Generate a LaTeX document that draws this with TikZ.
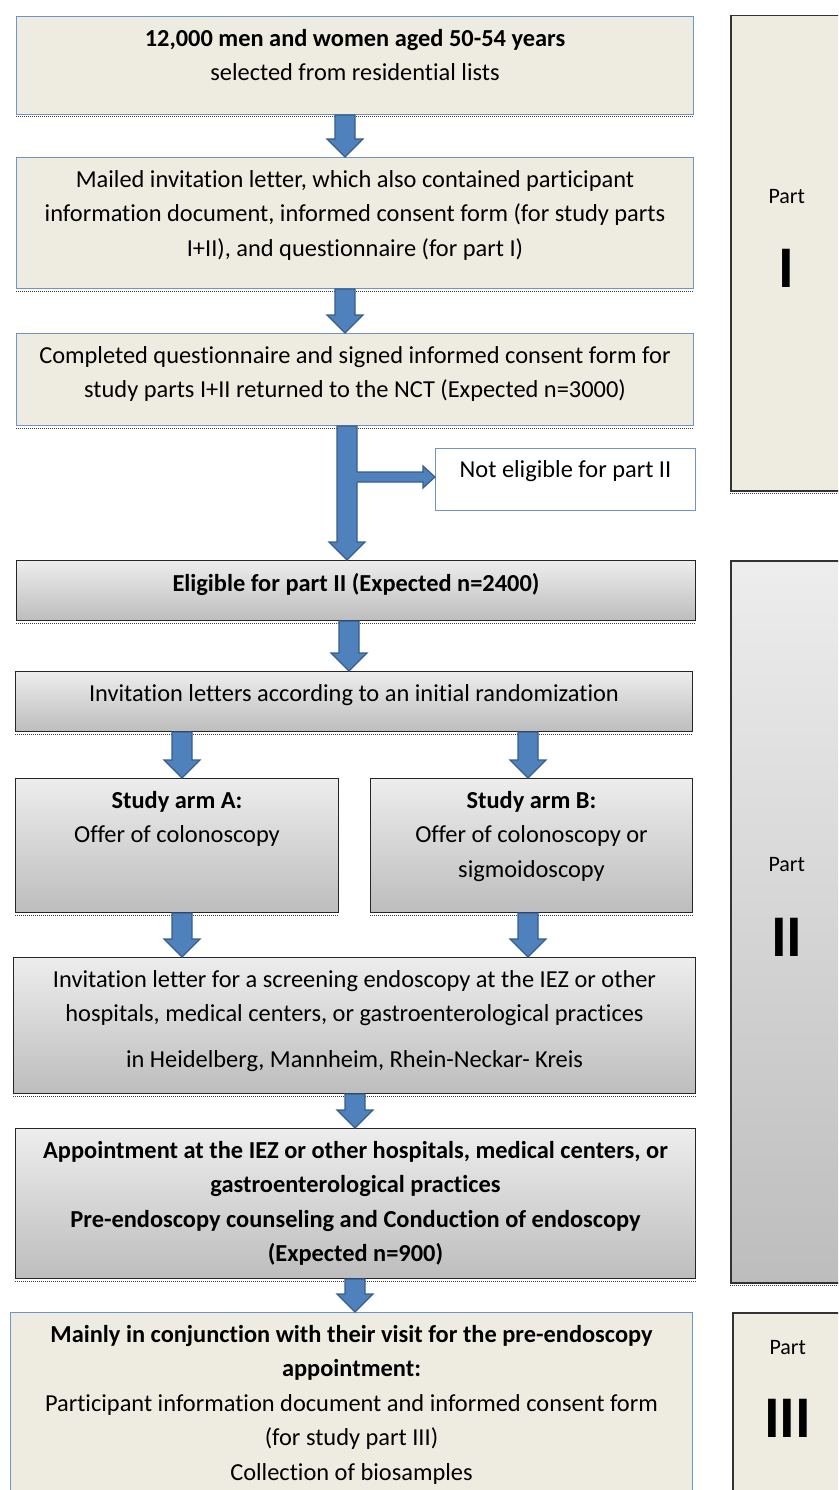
\documentclass[tikz,border=0pt]{standalone}
\usepackage{fontspec}
\setmainfont{Carlito}[Ligatures={TeX,NoCommon}]
\usetikzlibrary{calc}

\definecolor{bgtan}{HTML}{EEECE1}
\definecolor{boxline}{HTML}{6F94C8}
\definecolor{arrowfill}{HTML}{4F81BD}
\definecolor{arrowline}{HTML}{385D8A}
\definecolor{greytop}{HTML}{EDEDED}
\definecolor{greybot}{HTML}{BDBDBD}

% block arrow: from anchor, to anchor, x position
\newcommand\fatarrow[3]{%
  \draw[blockarrow] let \p1=(#1), \p2=(#2), \p3=(#3,0) in
    (\x3-10pt,\y1) -- (\x3+10pt,\y1) -- (\x3+10pt,\y2+18pt) -- (\x3+18pt,\y2+18pt)
    -- (\x3,\y2) -- (\x3-18pt,\y2+18pt) -- (\x3-10pt,\y2+18pt) -- cycle;}

\begin{document}
\begin{tikzpicture}[x=1pt, y=-1pt,
  every node/.style={font=\fontsize{24.4}{34.5}\selectfont},
  shadowline/.style={append after command={([yshift=-2pt]\tikzlastnode.south west) edge[densely dotted, line width=1pt, black!75] ([yshift=-2pt]\tikzlastnode.south east)}},
  tanbox/.style={draw=boxline, line width=1pt, fill=bgtan, anchor=north west, inner sep=0pt},
  greybox/.style={draw=black!85, line width=1pt, top color=greytop, bottom color=greybot, anchor=north west, inner sep=0pt},
  partbox/.style={draw=black!80, line width=1.5pt, anchor=north west, inner sep=0pt, minimum width=112pt},
  txt/.style={align=center, anchor=north, inner sep=0pt, yshift=-13pt},
  parttxt/.style={anchor=north, inner sep=0pt, font=\fontsize{22}{26}\selectfont},
  numtxt/.style={anchor=north, inner sep=0pt, font=\fontsize{59}{60}\selectfont\bfseries},
  blockarrow/.style={fill=arrowfill, draw=arrowline, line width=1.2pt, line join=miter}
]
\useasboundingbox (0,0) rectangle (838,1490);
\clip (0,0) rectangle (838,1490);

% Part boxes
\node[partbox, shadowline, fill=bgtan, minimum height=475pt,
  label={[parttxt, yshift=-174pt]north:Part},
  label={[numtxt, yshift=-234pt]north:I}] (part1) at (730,15) {};
\node[partbox, shadowline, top color=greytop, bottom color=greybot, minimum height=722pt,
  label={[parttxt, yshift=-297pt]north:Part},
  label={[numtxt, yshift=-358pt]north:II}] (part2) at (730,560) {};
\node[partbox, fill=bgtan, minimum width=110pt, minimum height=200pt,
  label={[parttxt, yshift=-28pt]north:Part},
  label={[numtxt, yshift=-87pt]north:III}] (part3) at (732,1312) {};

% Part I
\node[tanbox, shadowline, minimum width=677pt, minimum height=98pt,
  label={[txt]north:{\textbf{12,000 men and women aged 50-54 years}\\selected from residential lists}}] (sample) at (16,16) {};
\node[tanbox, shadowline, minimum width=677pt, minimum height=131pt,
  label={[txt]north:{Mailed invitation letter, which also contained participant\\information document, informed consent form (for study parts\\I+II), and questionnaire (for part I)}}] (mailed) at (16,157) {};
\node[tanbox, shadowline, minimum width=677pt, minimum height=92pt,
  label={[txt]north:{Completed questionnaire and signed informed consent form for\\study parts I+II returned to the NCT (Expected n=3000)}}] (returned) at (16,333) {};
\node[tanbox, fill=white, minimum width=260pt, minimum height=62pt,
  label={[txt, yshift=1pt]north:{Not eligible for part II}}] (noteligible) at (435,448) {};

% Part II
\node[greybox, shadowline, minimum width=679pt, minimum height=60pt,
  label={[txt]north:{\textbf{Eligible for part II (Expected n=2400)}}}] (eligible) at (16,560) {};
\node[greybox, shadowline, minimum width=677pt, minimum height=60pt,
  label={[txt]north:{Invitation letters according to an initial randomization}}] (random) at (15,671) {};
\node[greybox, shadowline, minimum width=323pt, minimum height=134pt,
  label={[txt]north:{\textbf{Study arm A:}\\Offer of colonoscopy}}] (armA) at (15,778) {};
\node[greybox, shadowline, minimum width=322pt, minimum height=134pt,
  label={[txt]north:{\textbf{Study arm B:}\\Offer of colonoscopy or\\sigmoidoscopy}}] (armB) at (370,778) {};
\node[greybox, shadowline, minimum width=682pt, minimum height=136pt,
  label={[txt]north:{Invitation letter for a screening endoscopy at the IEZ or other\\hospitals, medical centers, or gastroenterological practices\\[11pt]in Heidelberg, Mannheim, Rhein-Neckar- Kreis}}] (invite) at (13,957) {};
\node[greybox, shadowline, minimum width=680pt, minimum height=150pt,
  label={[txt]north:{\textbf{Appointment at the IEZ or other hospitals, medical centers, or}\\\textbf{gastroenterological practices}\\\textbf{Pre-endoscopy counseling and Conduction of endoscopy}\\\textbf{(Expected n=900)}}}] (appoint) at (15,1128) {};

% Part III
\node[tanbox, minimum width=682pt, minimum height=200pt,
  label={[txt]north:{\textbf{Mainly in conjunction with their visit for the pre-endoscopy}\\\textbf{appointment:}\\Participant information document and informed consent form\\(for study part III)\\Collection of biosamples}}] (biosample) at (10,1312) {};

% Arrows
\fatarrow{sample.south}{mailed.north}{345}
\fatarrow{mailed.south}{returned.north}{345}
\fatarrow{returned.south}{eligible.north}{347}
\coordinate (branch) at (357,477);
\fill[arrowfill] let \p1=(branch), \p2=(branch -| noteligible.west) in
  (\x1-2pt,\y1+5pt) -- (\x2-12pt,\y1+5pt) -- (\x2-12pt,\y1+11pt) -- (\x2,\y1)
  -- (\x2-12pt,\y1-11pt) -- (\x2-12pt,\y1-5pt) -- (\x1-2pt,\y1-5pt) -- cycle;
\draw[arrowline, line width=1.2pt] let \p1=(branch), \p2=(branch -| noteligible.west) in
  (\x1,\y1+5pt) -- (\x2-12pt,\y1+5pt) -- (\x2-12pt,\y1+11pt) -- (\x2,\y1)
  -- (\x2-12pt,\y1-11pt) -- (\x2-12pt,\y1-5pt) -- (\x1,\y1-5pt);
\fatarrow{eligible.south}{random.north}{349}
\fatarrow{random.south}{armA.north}{182}
\fatarrow{random.south}{armB.north}{528}
\fatarrow{armA.south}{invite.north}{182}
\fatarrow{armB.south}{invite.north}{528}
\fatarrow{invite.south}{appoint.north}{355}
\fatarrow{appoint.south}{biosample.north}{355}

\end{tikzpicture}
\end{document}
